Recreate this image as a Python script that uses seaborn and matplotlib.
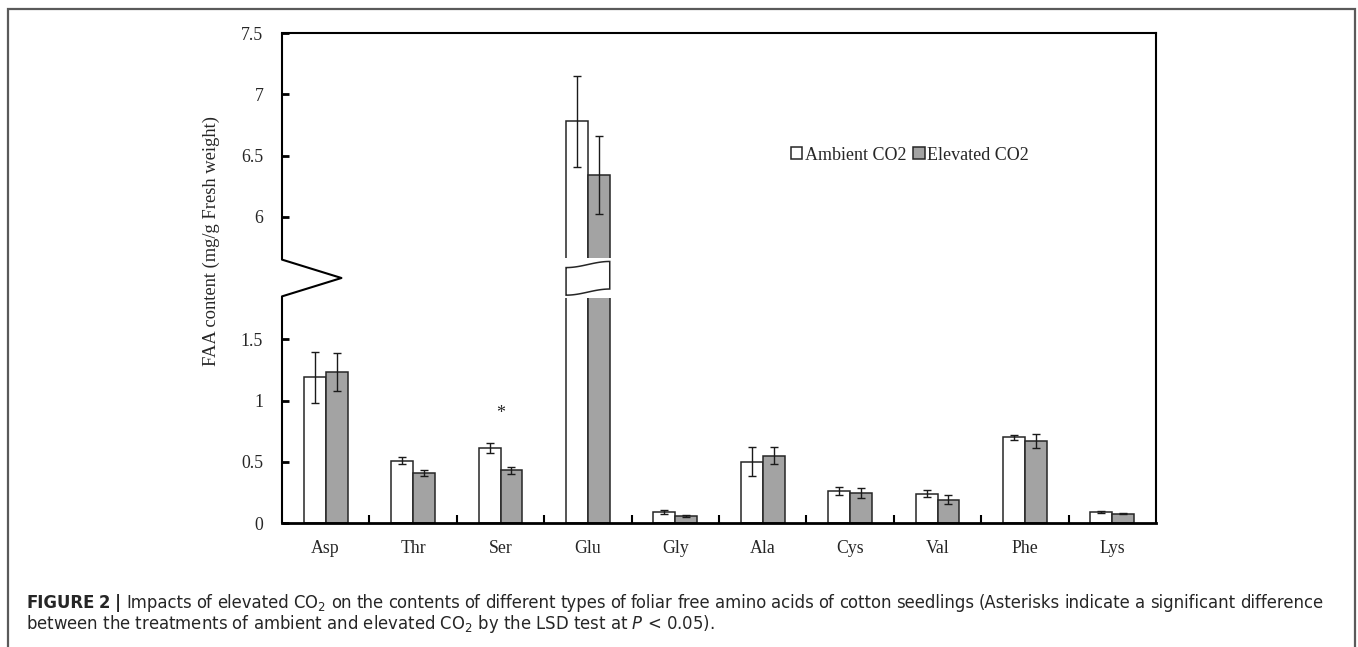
import numpy as np
import pandas as pd
import matplotlib
matplotlib.use("Agg")
import matplotlib.pyplot as plt
import matplotlib.transforms as mtransforms
from matplotlib.patches import Rectangle, Polygon
from matplotlib.lines import Line2D
import seaborn as sns

# ---------------- data ----------------
amino_acids = ["Asp", "Thr", "Ser", "Glu", "Gly", "Ala", "Cys", "Val", "Phe", "Lys"]
ambient = [1.19, 0.51, 0.61, 6.78, 0.09, 0.50, 0.26, 0.24, 0.70, 0.09]
ambient_err = [0.21, 0.03, 0.04, 0.37, 0.015, 0.12, 0.035, 0.03, 0.02, 0.005]
elevated = [1.23, 0.41, 0.43, 6.34, 0.055, 0.55, 0.245, 0.19, 0.67, 0.075]
elevated_err = [0.155, 0.025, 0.03, 0.32, 0.01, 0.07, 0.04, 0.035, 0.06, 0.004]
treatments = ["Ambient CO2", "Elevated CO2"]
ytick_values = [0, 0.5, 1, 1.5, 6, 6.5, 7, 7.5]
ytick_labels = ["0", "0.5", "1", "1.5", "6", "6.5", "7", "7.5"]
significant = ["Ser"]

caption_bold = "FIGURE 2 |"
caption_line1 = ("Impacts of elevated CO$_2$ on the contents of different types of foliar free amino "
                 "acids of cotton seedlings (Asterisks indicate a significant difference")
caption_line2 = "between the treatments of ambient and elevated CO$_2$ by the LSD test at $P$ < 0.05)."

# broken-axis mapping: values above the break are shifted down
BREAK_AT = 2.0
SHIFT = 3.5


def to_plot(v):
    return v - SHIFT if v > BREAK_AT else v


df = pd.DataFrame({
    "aa": amino_acids * 2,
    "treatment": [treatments[0]] * len(amino_acids) + [treatments[1]] * len(amino_acids),
    "value": ambient + elevated,
    "err": ambient_err + elevated_err,
})
df["plot_value"] = [to_plot(v) for v in df["value"]]

# ---------------- style ----------------
sns.set_theme(style="white")
plt.rcParams["font.family"] = ["Liberation Serif", "DejaVu Serif"]
plt.rcParams["mathtext.fontset"] = "custom"
plt.rcParams["mathtext.rm"] = "DejaVu Sans"
plt.rcParams["mathtext.it"] = "DejaVu Sans:italic"

fig = plt.figure(figsize=(13.58, 6.47), dpi=100)
W, H = 1358, 647
ax = fig.add_axes([282 / W, 1 - 523 / H, 874 / W, 490 / H])

sns.barplot(data=df, x="aa", y="plot_value", hue="treatment",
            palette=["white", "#a3a3a3"], edgecolor="#262626", linewidth=1.1,
            width=0.5, errorbar=None, order=amino_acids, hue_order=treatments,
            ax=ax)

# error bars from bar positions
for cont, tr in zip(ax.containers, treatments):
    sub = df[df["treatment"] == tr].set_index("aa").loc[amino_acids]
    xs = [p.get_x() + p.get_width() / 2 for p in cont.patches]
    ax.errorbar(xs, sub["plot_value"].values, yerr=sub["err"].values, fmt="none",
                ecolor="#1a1a1a", elinewidth=1.0, capsize=2.6, capthick=1.0, zorder=5)

ax.set_xlim(-0.5, len(amino_acids) - 0.5)
ax.set_ylim(0, to_plot(7.5))
ax.set_yticks([to_plot(v) for v in ytick_values])
ax.set_yticklabels(ytick_labels, fontsize=12.8)
ax.set_xticks(range(len(amino_acids)))
ax.set_xticklabels(amino_acids, fontsize=12.8)
ax.set_xticks(np.arange(0.5, len(amino_acids) - 0.5, 1), minor=True)
ax.tick_params(axis="x", which="major", length=0, pad=12)
ax.tick_params(axis="x", which="minor", direction="in", length=6, width=1.5,
               bottom=True, top=False, color="black")
ax.tick_params(axis="y", which="major", direction="in", length=5, width=2,
               left=True, right=False, pad=13.5, color="black")
ax.set_xlabel("")
ax.set_ylabel("FAA content (mg/g Fresh weight)", fontsize=13.3)
ax.yaxis.set_label_coords(-0.071, 0.575)

for s in ["top", "right", "bottom"]:
    ax.spines[s].set_visible(True)
    ax.spines[s].set_color("black")
ax.spines["top"].set_linewidth(1.5)
ax.spines["right"].set_linewidth(1.5)
ax.spines["bottom"].set_linewidth(2)
ax.spines["left"].set_visible(False)

# left axis with zigzag break
trans = mtransforms.blended_transform_factory(ax.transAxes, ax.transData)
ax.add_line(Line2D([0, 0, 0.068, 0, 0],
                   [to_plot(7.5), 2.15, 2.0, 1.85, 0],
                   transform=trans, color="black", lw=1.5, clip_on=False, zorder=6))

# break marks on Glu bars
gi = amino_acids.index("Glu")
x0, x1 = gi - 0.25, gi + 0.25
t = np.linspace(0, 1, 60)
xw = x0 + (x1 - x0) * t
top_w = 2.11 + 0.025 * np.sin(np.pi * (t - 0.5))
bot_w = 1.885 + 0.025 * np.sin(np.pi * (t - 0.5))
ax.add_patch(Rectangle((x0 - 0.01, 1.84), (x1 - x0) + 0.02, 0.32,
                       facecolor="white", edgecolor="none", zorder=7))
poly = np.vstack([np.column_stack([xw, top_w]), np.column_stack([xw[::-1], bot_w[::-1]])])
ax.add_patch(Polygon(poly, closed=True, facecolor="white", edgecolor="#262626",
                     lw=1.1, zorder=8))

# significance asterisk
for aa in significant:
    i = amino_acids.index(aa)
    ax.text(i, 0.89, "*", ha="center", va="center", fontsize=13, zorder=9)

# legend
handles, labels = ax.get_legend_handles_labels()
ax.legend(handles, labels, loc="center left", bbox_to_anchor=(0.582, 0.751),
          ncol=2, frameon=False, fontsize=13, handlelength=0.65, handleheight=0.65,
          handletextpad=0.15, columnspacing=0.35, borderaxespad=0, borderpad=0)

# caption (first line justified)
cap_font = dict(family="DejaVu Sans", fontsize=11.9)
renderer = fig.canvas.get_renderer()
x_start, x_end = 26.0, 1323.0
y1 = 1 - 608 / H
words = [(w, "bold") for w in caption_bold.split(" ")] + \
        [(w, "normal") for w in caption_line1.split(" ")]
txts = []
for w, wt in words:
    tt = fig.text(0, y1, w, fontweight=wt, va="baseline", ha="left", **cap_font)
    txts.append(tt)
widths = [tt.get_window_extent(renderer).width for tt in txts]
gap = (x_end - x_start - sum(widths)) / (len(txts) - 1)
xc = x_start
for tt, wd in zip(txts, widths):
    tt.set_x(xc / W)
    xc += wd + gap
fig.text(x_start / W, 1 - 629 / H, caption_line2, va="baseline", ha="left", **cap_font)

# outer frame
fig.add_artist(Rectangle((8 / W, -0.02), (1355 - 8) / W, 1.02 - 9 / H,
                         transform=fig.transFigure, facecolor="none",
                         edgecolor="#5a5a5a", lw=1.6))

fig.savefig("out.png", dpi=100)
